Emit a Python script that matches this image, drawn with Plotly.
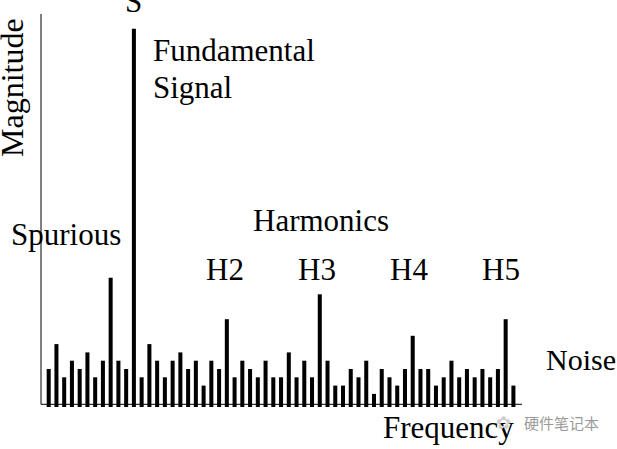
import plotly.graph_objects as go

# ---- data ----
bin_index = list(range(61))
magnitude = [4, 7, 3, 5, 4, 6, 3, 5, 15, 5, 4, 45, 3, 7, 5, 3, 5, 6, 4, 5,
             2, 5, 4, 10, 3, 5, 4, 3, 5, 3, 3, 6, 3, 5, 3, 13, 5, 2, 2, 4,
             3, 5, 1, 4, 3, 2, 4, 8, 4, 4, 2, 3, 5, 3, 4, 3, 4, 3, 4, 10, 2]

W, H = 617, 449
L, R, T, B = 41, 95, 14, 42
YMIN, YMAX = -0.578, 46.77
XMIN, XMAX = -0.994, 61.11
AXIS_Y = -0.253

SERIF = "Liberation Serif, Times New Roman, serif"


def px(xp):
    return (xp - L) / (W - L - R)


def py(yp):
    return (H - B - yp) / (H - T - B)


fig = go.Figure()
fig.add_trace(go.Bar(
    x=bin_index,
    y=[m - YMIN for m in magnitude],
    base=YMIN,
    width=0.52,
    marker=dict(color="black", line=dict(width=0)),
    hoverinfo="skip",
))

fig.update_layout(
    width=W, height=H,
    margin=dict(l=L, r=R, t=T, b=B, pad=0),
    paper_bgcolor="white", plot_bgcolor="white",
    showlegend=False,
    xaxis=dict(range=[XMIN, XMAX], visible=False, fixedrange=True),
    yaxis=dict(range=[YMIN, YMAX], visible=False, fixedrange=True),
    shapes=[
        dict(type="line", xref="paper", yref="y", x0=0, x1=1, y0=AXIS_Y, y1=AXIS_Y,
             line=dict(color="black", width=1)),
        dict(type="line", xref="paper", yref="y", x0=0, x1=0, y0=AXIS_Y, y1=YMAX,
             line=dict(color="black", width=1)),
    ],
)

def label(text, x, y, size=31, xanchor="center", angle=0, color="black", family=SERIF):
    fig.add_annotation(
        text=text, xref="paper", yref="paper", x=px(x), y=py(y),
        xanchor=xanchor, yanchor="middle", showarrow=False, textangle=angle,
        font=dict(family=family, size=size, color=color),
    )

label("Magnitude", 12, 88, size=32, angle=-90)
label("S", 133, 2)
label("Fundamental", 151, 50, xanchor="left")
label("Signal", 151, 87, xanchor="left")
label("Spurious", 66, 234)
label("Harmonics", 321, 220)
label("H2", 225, 269)
label("H3", 317, 269)
label("H4", 409, 269)
label("H5", 501, 269)
label("Noise", 581, 359, size=30)
label("Frequency", 448, 427)
label("✿", 503, 423, size=18, color="#cfcfcf", family="DejaVu Sans")
label("硬件笔记本", 561, 423, size=15, color="#9a9a9a", family="Noto Sans CJK SC")

fig.write_html(
    "out.html",
    config={"displayModeBar": False},
    post_script="document.body.style.margin='0px';document.body.style.overflow='hidden';",
)
